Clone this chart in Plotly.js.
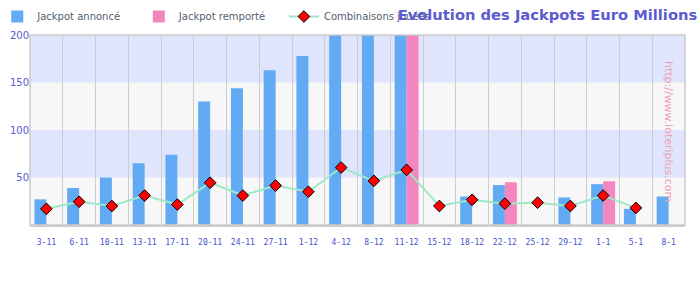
<!DOCTYPE html>
<html><head><meta charset="utf-8">
<script src="https://cdn.plot.ly/plotly-3.0.1.min.js"></script>
<style>html,body{margin:0;padding:0;background:#fff}#c{width:700px;height:300px}</style>
</head><body><div id="c"></div>
<script>
const categories = ["3-11","6-11","10-11","13-11","17-11","20-11","24-11","27-11","1-12","4-12","8-12","11-12","15-12","18-12","22-12","25-12","29-12","1-1","5-1","8-1"];
const jackpotAnnonce = [27,39,50,65,74,130,144,163,178,210,225,240,null,30,42,null,29,43,17,30];
const jackpotRemporte = [null,null,null,null,null,null,null,null,null,null,null,240,null,null,45,null,null,46,null,null];
const combinaisons = [17,24.5,20,31,21.5,44.5,31,41.5,35,60.5,46.5,58,20,26.5,22.5,23.5,20,31,18,null];
const seriesNames = ["Jackpot annoncé","Jackpot remporté","Combinaisons jouées"];
const yTicks = [50,100,150,200];
const bandEdges = [0,50,100,150,200];
const bandColors = ["#f7f7f7","#dfe5fc","#f7f7f7","#dfe5fc"];

const pad = "\u00a0\u00a0\u00a0\u00a0";
const shapes = [];
for (let i = 0; i < bandColors.length; i++) {
  shapes.push({type:"rect", xref:"paper", yref:"y", x0:0, x1:1, y0:bandEdges[i], y1:bandEdges[i+1],
    fillcolor:bandColors[i], line:{width:0}, layer:"below"});
}
shapes.push({type:"rect", xref:"paper", yref:"paper", x0:0, x1:1, y0:0, y1:1, line:{color:"#cccccc", width:1.5}, layer:"above"});

const traces = [
  {type:"bar", name:seriesNames[0]+pad, x:categories, y:jackpotAnnonce, marker:{color:"#62aaf3"}},
  {type:"bar", name:seriesNames[1]+pad, x:categories, y:jackpotRemporte, marker:{color:"#f386be"}},
  {type:"scatter", mode:"lines+markers", name:seriesNames[2], x:categories, y:combinaisons,
    line:{color:"#9ee8c8", width:2},
    marker:{symbol:"diamond", size:9, color:"#ff0000", line:{color:"#000000", width:1}}}
];

const layout = {
  width:700, height:300,
  margin:{l:30, r:15, t:35, b:75, autoexpand:false},
  paper_bgcolor:"#ffffff", plot_bgcolor:"#f7f7f7",
  barmode:"group", bargap:0.27, bargroupgap:0,
  showlegend:true,
  legend:{orientation:"h", x:-0.05, xanchor:"left", y:1.021, yanchor:"bottom",
    font:{family:"DejaVu Sans", size:10, color:"#51606f"},
    bgcolor:"rgba(0,0,0,0)", traceorder:"normal", itemclick:false},
  title:{text:"Evolution des Jackpots Euro Millions", x:0.996, xanchor:"right", xref:"container",
    y:0.95, yanchor:"middle", yref:"container",
    font:{family:"DejaVu Sans", size:14.7, color:"#5b5bd2", weight:"bold"}},
  xaxis:{type:"category", range:[-0.5, categories.length - 0.5], tickson:"boundaries", showgrid:true, gridcolor:"#cccccc", gridwidth:1,
    showline:true, linecolor:"#cccccc", linewidth:1.5, ticks:"", ticklabelstandoff:9, tickangle:0,
    automargin:false,
    tickfont:{family:"DejaVu Sans Mono", size:8, color:"#4051cc"}, fixedrange:true},
  yaxis:{range:[0,200], tickvals:yTicks, showgrid:false, zeroline:false, showline:false, automargin:false,
    ticks:"", tickfont:{family:"DejaVu Sans", size:10, color:"#5a5ad0"}, fixedrange:true},
  shapes:shapes,
  annotations:[{text:"http://www.loteriplus.com", xref:"paper", yref:"paper", x:0.974, y:0.49,
    xanchor:"center", yanchor:"middle", textangle:90, showarrow:false,
    font:{family:"DejaVu Sans", size:11, color:"#f0a0b4"}}]
};
Plotly.newPlot("c", traces, layout, {displayModeBar:false, staticPlot:true});
</script></body></html>
